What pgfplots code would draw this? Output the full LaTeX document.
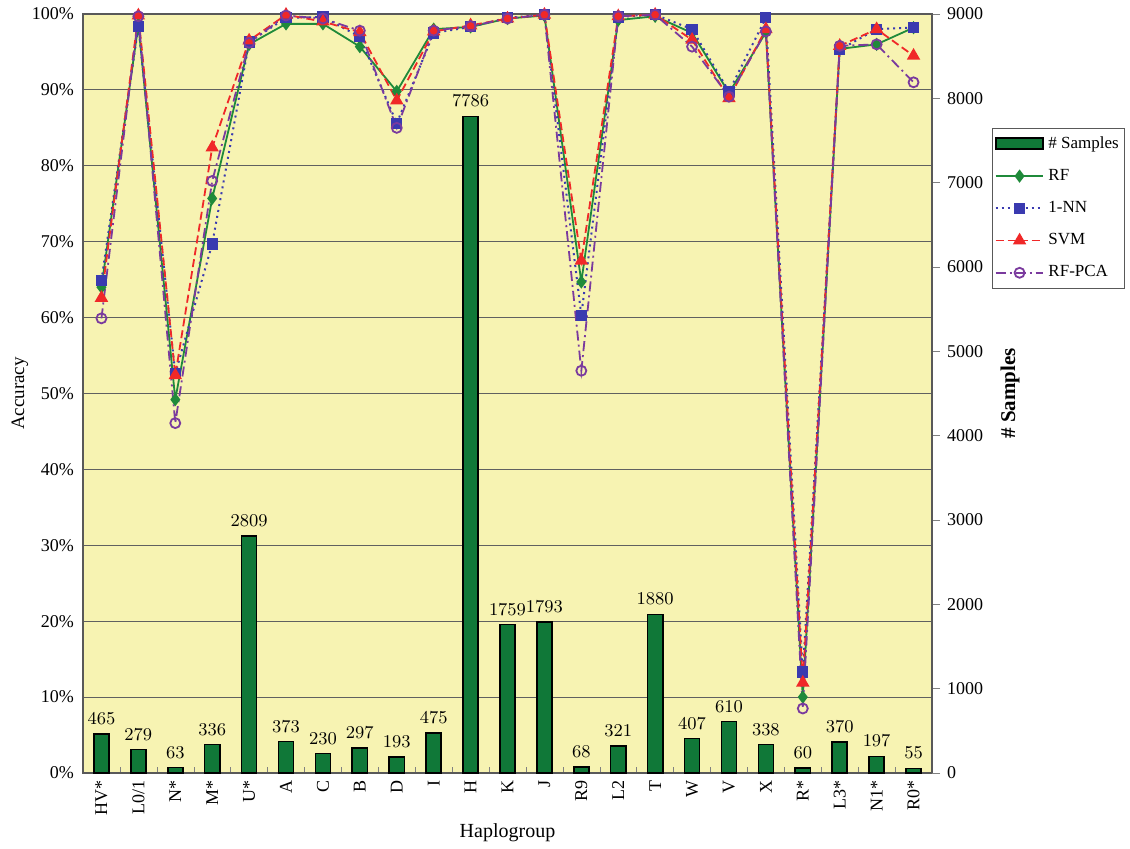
\documentclass[border=0pt]{standalone}
\usepackage{fontspec}
\setmainfont{Liberation Serif}
\usepackage{pgfplots}
\pgfplotsset{compat=1.18}
\definecolor{bg}{HTML}{F7F3B2}
\definecolor{bargreen}{HTML}{107838}
\definecolor{rfgreen}{HTML}{1F8A3A}
\definecolor{nnblue}{HTML}{3A3AB0}
\definecolor{svmred}{HTML}{F02828}
\definecolor{pcapurple}{HTML}{7A3A9E}
\pgfplotsset{common/.style={width=424.5pt,height=379.5pt,scale only axis,xmin=-0.5,xmax=22.5,
  /pgf/number format/1000 sep={},
  tick label style={font=\fontsize{9}{10}\selectfont}}}
\begin{document}
\begin{tikzpicture}
% background, grid, left axis, x labels
\begin{axis}[common, ymin=0, ymax=100,
  axis background/.style={fill=bg},
  ytick={0,10,...,100},
  yticklabels={0\%,10\%,20\%,30\%,40\%,50\%,60\%,70\%,80\%,90\%,100\%},
  ytick pos=left, ytick style={draw=none},
  yticklabel style={xshift=-1pt},
  ymajorgrids, grid style={gray!75!black, line width=0.5pt},
  xtick={0,...,22},
  xticklabels={HV*,L0/1,N*,M*,U*,A,C,B,D,I,H,K,J,R9,L2,T,W,V,X,R*,L3*,N1*,R0*},
  xticklabel style={rotate=90, anchor=east},
  major x tick style={draw=none},
  minor xtick={0.5,1.5,...,21.5},
  minor tick length=3pt, xtick pos=bottom, xtick align=inside,
  axis line style={gray!70!black, line width=0.6pt},
  ylabel={Accuracy}, xlabel={Haplogroup},
  ylabel style={at={(rel axis cs:0,0.5)}, anchor=center, yshift=31.5pt, font=\fontsize{9.5}{10}\selectfont},
  xlabel style={at={(rel axis cs:0.5,0)}, anchor=center, yshift=-30pt, font=\fontsize{10}{11}\selectfont},
]
\addplot[draw=none] coordinates {(0,0)};
\end{axis}
% bars, right axis
\begin{axis}[common, ymin=0, ymax=9000,
  axis y line*=right, axis x line=none,
  ytick={0,1000,...,9000},
  yticklabels={0,1000,2000,3000,4000,5000,6000,7000,8000,9000},
  ytick align=outside, major tick length=4pt,
  axis line style={gray!70!black, line width=0.6pt},
  ylabel={\textbf{\# Samples}},
  ylabel style={at={(rel axis cs:1,0.5)}, anchor=center, yshift=-39pt, font=\fontsize{10.5}{11}\selectfont},
]
\addplot[ybar, bar width=0.41, fill=bargreen, draw=black, line width=0.8pt,
  nodes near coords, nodes near coords style={text=black, font=\fontsize{9.5}{10}\selectfont, yshift=1pt}]
  table {
x y
0 465
1 279
2 63
3 336
4 2809
5 373
6 230
7 297
8 193
9 475
10 7786
11 1759
12 1793
13 68
14 321
15 1880
16 407
17 610
18 338
19 60
20 370
21 197
22 55
};
\end{axis}
% lines
\begin{axis}[common, ymin=0, ymax=100, hide axis,
  legend style={at={(rel axis cs:1.071,0.85)}, anchor=north west, draw=gray!70!black,
    font=\fontsize{8.5}{10}\selectfont, row sep=5pt, inner sep=2pt, inner xsep=1pt},
  legend cell align=left,
  legend image code/.code={\draw[mark repeat=2,mark phase=2] plot coordinates {(0cm,0cm) (0.42cm,0cm) (0.84cm,0cm)};},
]
\addlegendimage{legend image code/.code={\draw[fill=bargreen,draw=black,line width=1pt] (0cm,-0.1cm) rectangle (0.84cm,0.1cm);}}
\addlegendentry{\# Samples}
\addplot[rfgreen, line width=0.9pt, mark=diamond*, mark size=2.6pt, mark options={solid}] table {
x y
0 64.0
1 98.6
2 49.2
3 75.7
4 96.0
5 98.7
6 98.7
7 95.7
8 89.8
9 98.0
10 98.3
11 99.4
12 99.8
13 64.7
14 99.2
15 99.7
16 97.5
17 89.6
18 97.6
19 10.0
20 95.4
21 96.0
22 98.2
};
\addlegendentry{RF}
\addplot[nnblue, line width=1pt, dotted, mark=square*, mark size=2.3pt, mark options={solid}] table {
x y
0 64.9
1 98.4
2 52.6
3 69.7
4 96.3
5 99.5
6 99.6
7 97.0
8 85.6
9 97.5
10 98.3
11 99.5
12 99.9
13 60.3
14 99.6
15 99.9
16 98.0
17 89.8
18 99.5
19 13.3
20 95.3
21 98.0
22 98.2
};
\addlegendentry{1-NN}
\addplot[svmred, line width=0.9pt, dash pattern=on 4pt off 2pt, mark=triangle*, mark size=3pt, mark options={solid}] table {
x y
0 62.6
1 99.8
2 52.4
3 82.4
4 96.5
5 99.9
6 99.0
7 97.6
8 88.6
9 97.7
10 98.5
11 99.4
12 99.9
13 67.5
14 99.7
15 99.9
16 96.6
17 88.9
18 98.0
19 11.9
20 95.8
21 98.0
22 94.5
};
\addlegendentry{SVM}
\addplot[pcapurple, line width=0.9pt, dash pattern=on 5pt off 2pt on 1pt off 2pt, mark=o, mark size=2.5pt, mark options={solid}] table {
x y
0 59.9
1 99.7
2 46.1
3 78.0
4 96.2
5 99.8
6 99.4
7 97.8
8 85.0
9 97.8
10 98.4
11 99.4
12 99.9
13 53.0
14 99.7
15 99.9
16 95.7
17 89.1
18 97.7
19 8.5
20 95.8
21 96.0
22 91.0
};
\addlegendentry{RF-PCA}
\end{axis}
\pgfresetboundingbox
\path (-41.5pt,-37.5pt) rectangle (523.5pt,386.5pt);
\end{tikzpicture}
\end{document}
